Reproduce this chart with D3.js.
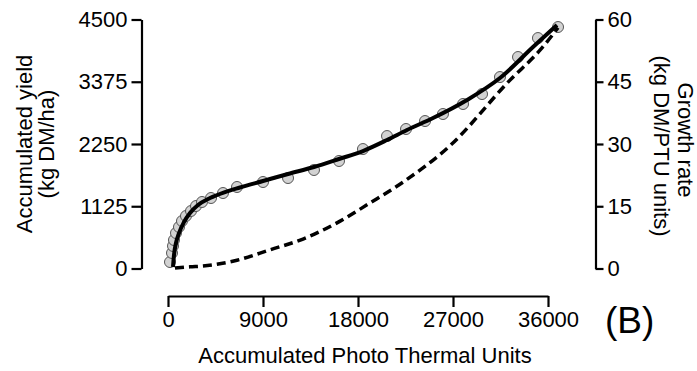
<!DOCTYPE html>
<html>
<head>
<meta charset="utf-8">
<script src="https://cdn.jsdelivr.net/npm/d3@7"></script>
<style>
  html, body { margin: 0; padding: 0; background: #fff; }
  svg text { font-family: "Liberation Sans", Arial, sans-serif; fill: #000; }
</style>
</head>
<body>
<svg id="chart" width="697" height="371"></svg>
<script>
// Observed data: accumulated PTU vs accumulated yield (kg DM/ha)
const obsPTU   = [189, 379, 474, 568, 758, 1042, 1326, 1705, 2179, 2653, 3221, 4074, 5211, 6537, 9000, 11370, 13830, 16200, 18470, 20750, 22550, 24350, 26050, 27950, 29750, 31450, 33160, 35050, 36950];
const obsYield = [117, 280, 407, 515, 641, 750, 858, 949, 1039, 1129, 1202, 1274, 1364, 1473, 1563, 1635, 1780, 1943, 2159, 2394, 2521, 2665, 2792, 2973, 3153, 3460, 3822, 4165, 4364];

// Fitted accumulated-yield curve (solid)
const fitPTU   = [474, 568, 758, 1042, 1516, 2084, 2842, 3979, 5400, 6821, 9000, 11370, 13830, 16200, 18470, 20750, 22640, 25110, 28330, 31450, 34580, 36850];
const fitYield = [27, 244, 461, 641, 840, 1003, 1147, 1274, 1382, 1464, 1581, 1708, 1834, 1979, 2123, 2322, 2503, 2719, 3045, 3442, 4002, 4400];

// Growth rate curve (dashed, right axis)
const ratePTU  = [663, 2084, 3316, 6537, 9663, 12790, 16010, 19140, 22260, 26720, 32400, 35240, 36950];
const rateVal  = [0.1, 0.4, 0.6, 2.0, 4.5, 7.1, 11.0, 15.8, 20.8, 29.6, 45.4, 52.6, 58.0];

// Tick labels
const xTicks  = [0, 9000, 18000, 27000, 36000];
const yTicks  = [0, 1125, 2250, 3375, 4500];
const y2Ticks = [0, 15, 30, 45, 60];

const svg = d3.select("#chart");
svg.append("rect").attr("width", 697).attr("height", 371).attr("fill", "#fff");

const x  = d3.scaleLinear().domain([0, 36000]).range([168, 548]);
const y  = d3.scaleLinear().domain([0, 4500]).range([268.5, 19.5]);
const y2 = d3.scaleLinear().domain([0, 60]).range([268.5, 19.5]);

const FS = 22;

function styleAxis(g) {
  g.selectAll("path.domain").attr("stroke", "#000").attr("stroke-width", 2.2);
  g.selectAll(".tick line").attr("stroke", "#000").attr("stroke-width", 2.2);
  g.selectAll(".tick text").attr("font-size", FS).attr("font-family", "Liberation Sans, Arial, sans-serif").attr("fill", "#000");
}

// Left axis
const gL = svg.append("g").attr("transform", "translate(141.5,0)")
  .call(d3.axisLeft(y).tickValues(yTicks).tickFormat(d3.format("d")).tickSize(10).tickSizeOuter(0).tickPadding(4));
styleAxis(gL);

// Right axis
const gR = svg.append("g").attr("transform", "translate(595.5,0)")
  .call(d3.axisRight(y2).tickValues(y2Ticks).tickFormat(d3.format("d")).tickSize(8).tickSizeOuter(0).tickPadding(4));
styleAxis(gR);

// Bottom axis
const gB = svg.append("g").attr("transform", "translate(0,296)")
  .call(d3.axisBottom(x).tickValues(xTicks).tickFormat(d3.format("d")).tickSize(11).tickSizeOuter(0).tickPadding(4));
styleAxis(gB);

// Points
const pts = obsPTU.map((p, i) => ({ x: p, y: obsYield[i] }));
svg.append("g").selectAll("circle").data(pts).join("circle")
  .attr("cx", d => x(d.x)).attr("cy", d => y(d.y)).attr("r", 5.5)
  .attr("fill", "#d2d2d2").attr("stroke", "#555").attr("stroke-width", 1);

// Fitted solid line
const fit = fitPTU.map((p, i) => ({ x: p, y: fitYield[i] }));
svg.append("path").datum(fit)
  .attr("fill", "none").attr("stroke", "#000").attr("stroke-width", 4)
  .attr("d", d3.line().x(d => x(d.x)).y(d => y(d.y)).curve(d3.curveMonotoneX));

// Dashed growth rate line
const rate = ratePTU.map((p, i) => ({ x: p, y: rateVal[i] }));
svg.append("path").datum(rate)
  .attr("fill", "none").attr("stroke", "#000").attr("stroke-width", 3.5)
  .attr("stroke-dasharray", "9,5")
  .attr("d", d3.line().x(d => x(d.x)).y(d => y2(d.y)).curve(d3.curveMonotoneX));

// Axis titles
svg.append("text").attr("transform", "translate(32,144) rotate(-90)")
  .attr("text-anchor", "middle").attr("font-size", FS).text("Accumulated yield");
svg.append("text").attr("transform", "translate(54,144) rotate(-90)")
  .attr("text-anchor", "middle").attr("font-size", FS).text("(kg DM/ha)");

svg.append("text").attr("transform", "translate(678,140) rotate(90)")
  .attr("text-anchor", "middle").attr("font-size", FS).text("Growth rate");
svg.append("text").attr("transform", "translate(654,146) rotate(90)")
  .attr("text-anchor", "middle").attr("font-size", FS).text("(kg DM/PTU units)");

svg.append("text").attr("x", 365).attr("y", 363)
  .attr("text-anchor", "middle").attr("font-size", FS).text("Accumulated Photo Thermal Units");

svg.append("text").attr("x", 605).attr("y", 333)
  .attr("font-size", 37).text("(B)");
</script>
</body>
</html>
